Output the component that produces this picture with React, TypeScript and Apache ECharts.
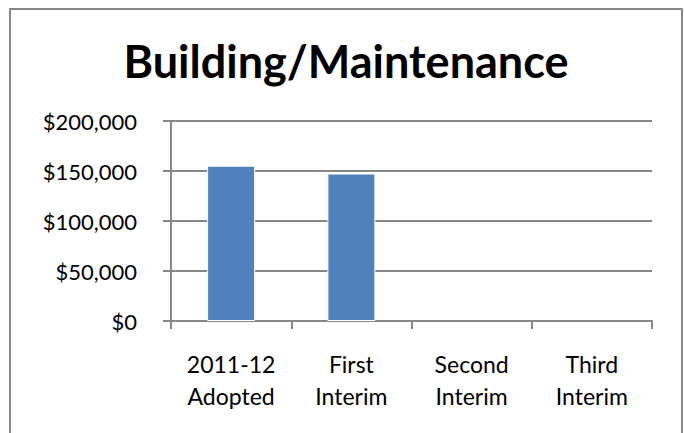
import React, { useEffect, useRef } from "react";
import * as echarts from "echarts";

const TITLE = "Building/Maintenance";
const categories = ["2011-12\nAdopted", "First\nInterim", "Second\nInterim", "Third\nInterim"];
const values: (number | null)[] = [155300, 147500, null, null];
const yMin = 0;
const yMax = 200000;
const yInterval = 50000;

const FONT = "Lato, 'Open Sans', sans-serif";

export default function App() {
  const ref = useRef<HTMLDivElement>(null);
  useEffect(() => {
    if (!ref.current) return;
    const chart = echarts.init(ref.current, null, { renderer: "svg" });
    chart.setOption({
      animation: false,
      backgroundColor: "#ffffff",
      grid: { left: 171, right: 32, top: 121, bottom: 112, containLabel: false },
      graphic: [
        {
          type: "rect",
          shape: { x: 10, y: 9, width: 672, height: 440 },
          style: { fill: "none", stroke: "#878787", lineWidth: 2 },
          silent: true,
        },
        {
          type: "text",
          x: 346,
          y: 61,
          style: {
            text: TITLE,
            fill: "#000000",
            font: `bold 45px ${FONT}`,
            textAlign: "center",
            textVerticalAlign: "middle",
          },
        },
      ],
      xAxis: {
        type: "category",
        data: categories,
        axisLine: { show: true, lineStyle: { color: "#878787", width: 2 } },
        axisTick: { show: true, length: 8, lineStyle: { color: "#878787", width: 2 } },
        axisLabel: {
          color: "#000000",
          fontFamily: FONT,
          fontSize: 23,
          lineHeight: 32,
          margin: 27,
          interval: 0,
        },
        splitLine: { show: false },
      },
      yAxis: {
        type: "value",
        min: yMin,
        max: yMax,
        interval: yInterval,
        axisLine: { show: true, lineStyle: { color: "#878787", width: 2 } },
        axisTick: { show: true, length: 8, lineStyle: { color: "#878787", width: 2 } },
        splitLine: { show: true, lineStyle: { color: "#878787", width: 2 } },
        axisLabel: {
          color: "#000000",
          fontFamily: FONT,
          fontSize: 22,
          margin: 34,
          formatter: (v: number) => "$" + v.toLocaleString("en-US"),
        },
      },
      series: [
        {
          type: "bar",
          data: values,
          barWidth: 48,
          itemStyle: { color: "#4F81BD", borderColor: "#ffffff", borderWidth: 1 },
        },
      ],
    });
    return () => chart.dispose();
  }, []);
  return (
    <div
      ref={ref}
      style={{ position: "absolute", left: 0, top: 0, width: 684, height: 433 }}
    />
  );
}
